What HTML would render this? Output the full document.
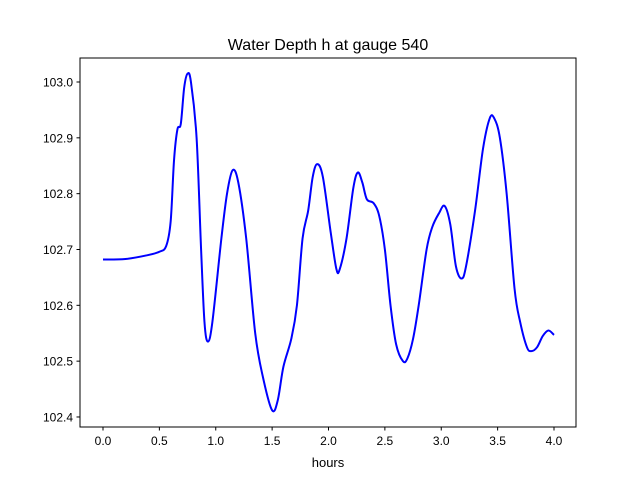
<!DOCTYPE html>
<html><head><meta charset="utf-8"><style>
body{margin:0;background:#fff;}
svg{display:block;font-family:"Liberation Sans","DejaVu Sans",sans-serif;}
</style></head><body>
<svg id="chart" width="640" height="480" viewBox="0 0 640 480">
<rect width="640" height="480" fill="#fff"/>
<text x="328" y="50" text-anchor="middle" font-size="16">Water Depth h at gauge 540</text>
<g id="ticks"></g>
<path id="line" fill="none" stroke="#0000ff" stroke-width="2"/>
<rect x="80" y="58" width="496" height="369" fill="none" stroke="#000" stroke-width="1"/>
<text x="328" y="467" text-anchor="middle" font-size="13">hours</text>
</svg>
<script>
const hours=[0,0.2,0.4,0.5,0.56,0.6,0.63,0.66,0.69,0.72,0.75,0.78,0.83,0.87,0.9,0.93,0.97,1.05,1.1,1.15,1.2,1.27,1.35,1.42,1.5,1.55,1.6,1.67,1.72,1.77,1.82,1.86,1.9,1.95,2.02,2.07,2.1,2.16,2.22,2.26,2.3,2.34,2.4,2.45,2.5,2.55,2.6,2.66,2.7,2.75,2.8,2.87,2.92,2.98,3.03,3.08,3.13,3.18,3.22,3.3,3.37,3.43,3.47,3.52,3.58,3.65,3.7,3.76,3.8,3.85,3.9,3.95,4.0];
const depth=[102.682,102.683,102.69,102.696,102.706,102.75,102.86,102.915,102.925,102.99,103.015,103.0,102.9,102.7,102.57,102.535,102.57,102.72,102.8,102.842,102.82,102.72,102.55,102.47,102.412,102.43,102.49,102.54,102.6,102.72,102.77,102.83,102.853,102.83,102.73,102.665,102.665,102.72,102.81,102.838,102.82,102.79,102.783,102.76,102.7,102.6,102.53,102.5,102.505,102.54,102.6,102.7,102.74,102.765,102.778,102.745,102.67,102.648,102.67,102.77,102.88,102.935,102.935,102.9,102.8,102.63,102.57,102.525,102.518,102.525,102.545,102.555,102.547];
const xTicks=[0,0.5,1,1.5,2,2.5,3,3.5,4];
const xTickLabels=["0.0","0.5","1.0","1.5","2.0","2.5","3.0","3.5","4.0"];
const yTicks=[102.4,102.5,102.6,102.7,102.8,102.9,103.0];
const yTickLabels=["102.4","102.5","102.6","102.7","102.8","102.9","103.0"];
const X=h=>103+h*112.75;
const Y=v=>82+(103.0-v)*558.3;
const NS="http://www.w3.org/2000/svg";
const g=document.getElementById('ticks');
function mk(t,a){const e=document.createElementNS(NS,t);for(const k in a)e.setAttribute(k,a[k]);g.appendChild(e);return e;}
xTicks.forEach((t,i)=>{
 const l=mk('line',{x1:X(t),x2:X(t),y1:427,y2:430.5,stroke:'#000'});
 
 
 const tx=mk('text',{x:X(t),y:445,'text-anchor':'middle','font-size':12});
 tx.textContent=xTickLabels[i];
 
 
});
yTicks.forEach((t,i)=>{
 const l=mk('line',{x1:76.5,x2:80,y1:Y(t),y2:Y(t),stroke:'#000'});
 
 
 const tx=mk('text',{x:73,y:Y(t)+4.5,'text-anchor':'end','font-size':12});
 tx.textContent=yTickLabels[i];
 
 
});
const p=hours.map((h,i)=>[X(h),Y(depth[i])]);
let d='M'+p[0][0]+','+p[0][1];
for(let i=0;i<p.length-1;i++){
 const p0=p[Math.max(0,i-1)],p1=p[i],p2=p[i+1],p3=p[Math.min(p.length-1,i+2)];
 const c1=[p1[0]+(p2[0]-p0[0])/6,p1[1]+(p2[1]-p0[1])/6];
 const c2=[p2[0]-(p3[0]-p1[0])/6,p2[1]-(p3[1]-p1[1])/6];
 d+=`C${c1[0]},${c1[1]} ${c2[0]},${c2[1]} ${p2[0]},${p2[1]}`;
}
document.getElementById('line').setAttribute('d',d);
</script>
</body></html>
